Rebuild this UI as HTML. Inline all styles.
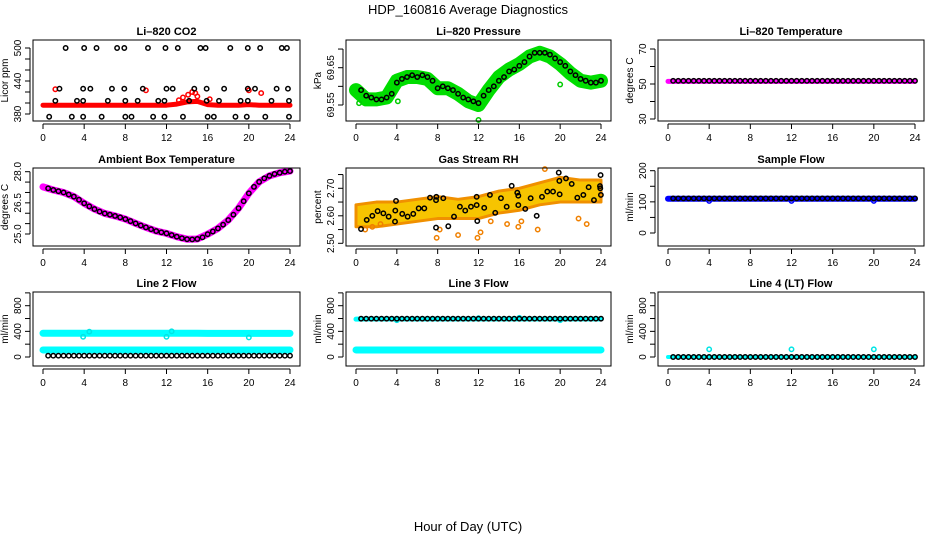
<!DOCTYPE html>
<html><head><meta charset="utf-8"><style>
html,body{margin:0;padding:0;background:#fff;}
svg text{font-family:"Liberation Sans",sans-serif;fill:#000;}
</style></head><body>
<svg id="chart" width="936" height="540" viewBox="0 0 936 540" xmlns="http://www.w3.org/2000/svg">
<text x="468" y="14" font-size="13" text-anchor="middle">HDP_160816  Average Diagnostics</text>
<text x="468" y="531" font-size="13" text-anchor="middle">Hour of Day (UTC)</text>
</svg>
<script>
const hourly=[0,1,2,3,4,5,6,7,8,9,10,11,12,13,14,15,16,17,18,19,20,21,22,23,24];
const halfHours=[0.5,1,1.5,2,2.5,3,3.5,4,4.5,5,5.5,6,6.5,7,7.5,8,8.5,9,9.5,10,10.5,11,11.5,12,12.5,13,13.5,14,14.5,15,15.5,16,16.5,17,17.5,18,18.5,19,19.5,20,20.5,21,21.5,22,22.5,23,23.5,24];
const xTicks=[0,4,8,12,16,20,24];
// CO2
const co2Red=[396,396,396,396,396,396,396,396,396,396,396,396,396,398,402,403,397,396,396,396,397,396,396,396,396];
const co2RedOutH=[1.2,10,13.2,13.6,14.1,14.5,14.8,15,16.2,20,21.2];
const co2RedOutV=[425,423,405,410,415,420,418,412,407,423,418];
const co2BlackH=[2.2,4.0,5.2,7.2,7.9,10.2,11.9,13.1,15.3,15.8,18.2,19.9,21.1,23.2,23.7,1.6,3.9,4.6,6.7,7.9,9.7,12.0,12.6,14.7,15.9,17.6,19.9,20.6,22.7,23.8,1.2,3.3,3.9,6.3,8.0,9.2,11.2,11.8,14.2,15.9,17.1,19.2,19.9,22.2,23.9,0.6,2.8,3.9,5.7,8.0,8.6,10.7,11.8,13.6,16.0,16.6,18.7,19.8,21.6,23.9];
const co2BlackV=[500,500,500,500,500,500,500,500,500,500,500,500,500,500,500,426,426,426,426,426,426,426,426,426,426,426,426,426,426,426,404,404,404,404,404,404,404,404,404,404,404,404,404,404,404,375,375,375,375,375,375,375,375,375,375,375,375,375,375,375];
// Pressure
const presGreen=[69.59,69.565,69.565,69.57,69.615,69.625,69.625,69.62,69.595,69.595,69.58,69.56,69.55,69.59,69.625,69.645,69.66,69.68,69.69,69.68,69.66,69.635,69.615,69.61,69.615];
const presBlack=[69.59,69.575,69.57,69.565,69.565,69.57,69.58,69.61,69.62,69.625,69.63,69.625,69.63,69.625,69.615,69.595,69.6,69.595,69.59,69.58,69.57,69.565,69.56,69.555,69.575,69.59,69.6,69.615,69.625,69.64,69.645,69.655,69.665,69.68,69.69,69.69,69.69,69.685,69.675,69.665,69.655,69.64,69.63,69.62,69.615,69.61,69.61,69.615];
const presOutH=[0.3,4.1,12,20];
const presOutV=[69.555,69.56,69.51,69.605];
// Li-820 temperature
const tempBand=[51.5,51.5,51.5,51.5,51.5,51.5,51.5,51.5,51.5,51.5,51.5,51.5,51.5,51.5,51.5,51.5,51.5,51.5,51.5,51.5,51.5,51.5,51.5,51.5,51.5];
const tempBlack=[51.8,51.8,51.8,51.8,51.8,51.8,51.8,51.8,51.8,51.8,51.8,51.8,51.8,51.8,51.8,51.8,51.8,51.8,51.8,51.8,51.8,51.8,51.8,51.8,51.8,51.8,51.8,51.8,51.8,51.8,51.8,51.8,51.8,51.8,51.8,51.8,51.8,51.8,51.8,51.8,51.8,51.8,51.8,51.8,51.8,51.8,51.8,51.8];
// Ambient box temperature
const ambBand=[27.27,27.12,27.0,26.8,26.48,26.2,25.99,25.87,25.72,25.51,25.32,25.14,25.03,24.87,24.75,24.76,24.99,25.27,25.67,26.24,26.96,27.51,27.8,27.95,28.03];
const ambBlack=[27.2,27.12,27.06,27.0,26.9,26.8,26.65,26.48,26.33,26.2,26.08,25.99,25.93,25.87,25.8,25.72,25.62,25.51,25.41,25.32,25.23,25.14,25.08,25.03,24.95,24.87,24.8,24.75,24.74,24.76,24.84,24.99,25.12,25.27,25.45,25.67,25.93,26.24,26.58,26.96,27.27,27.51,27.68,27.8,27.89,27.95,28.0,28.03];
// Gas stream RH
const rhBandH=[0,2,4,6,8,10,12,14,16,18,20,22,24];
const rhUpper=[2.64,2.65,2.65,2.66,2.67,2.66,2.67,2.69,2.70,2.72,2.74,2.73,2.73];
const rhLower=[2.56,2.56,2.57,2.58,2.59,2.59,2.59,2.61,2.62,2.64,2.65,2.65,2.65];
const rhOutH=[0.9,1.6,2.4,7.9,8.2,10,11.9,12.2,13.2,14.8,15.9,16.2,17.8,18.5,21.8,22.6];
const rhOutV=[2.55,2.56,2.57,2.52,2.55,2.53,2.52,2.54,2.58,2.57,2.56,2.58,2.55,2.77,2.59,2.57];
const rhBlackH=[0.49,1.05,1.6,2.12,2.68,3.2,3.82,3.85,3.92,4.53,5.06,5.61,6.14,6.69,7.25,7.84,7.84,7.87,8.55,9.04,9.6,10.18,10.7,11.26,11.82,11.82,11.88,12.56,13.12,13.64,14.2,14.76,15.25,15.8,15.9,15.9,16.58,17.11,17.7,18.22,18.74,19.3,19.86,19.92,19.95,20.57,21.13,21.68,22.27,22.79,23.31,23.9,23.93,23.96,23.99];
const rhBlackV=[2.552,2.585,2.6,2.617,2.609,2.597,2.579,2.619,2.654,2.607,2.597,2.607,2.627,2.627,2.666,2.557,2.657,2.669,2.664,2.562,2.597,2.633,2.619,2.633,2.639,2.669,2.581,2.629,2.676,2.611,2.664,2.633,2.709,2.684,2.673,2.639,2.625,2.664,2.6,2.669,2.688,2.688,2.757,2.727,2.678,2.736,2.716,2.666,2.676,2.704,2.657,2.708,2.7,2.748,2.676];
// Sample flow
const sampleBand=[110,110,110,110,110,110,110,110,110,110,110,110,110,110,110,110,110,110,110,110,110,110,110,110,110];
const sampleBlack=[111,111,111,111,111,111,111,111,111,111,111,111,111,111,111,111,111,111,111,111,111,111,111,111,111,111,111,111,111,111,111,111,111,111,111,111,111,111,111,111,111,111,111,111,111,111,111,111];
const sampleOutH=[4,12,20];
const sampleOutV=[103,103,103];
// Line 2 flow
const l2Upper=[370,370,370,370,370,370,370,370,370,370,370,370,370,370,370,370,368,368,368,368,368,368,368,368,368];
const l2Lower=[110,110,110,110,110,110,110,110,110,110,110,110,110,110,110,110,110,110,110,110,110,110,110,110,110];
const l2Black=[20,20,20,20,20,20,20,20,20,20,20,20,20,20,20,20,20,20,20,20,20,20,20,20,20,20,20,20,20,20,20,20,20,20,20,20,20,20,20,20,20,20,20,20,20,20,20,20];
const l2OutH=[3.9,4.5,12,12.5,20];
const l2OutV=[315,395,315,400,305];
// Line 3 flow
const l3Upper=[590,592,592,592,592,592,592,592,592,592,592,592,592,592,592,592,592,592,592,592,592,592,592,592,592];
const l3Lower=[110,110,110,110,110,110,110,110,110,110,110,110,110,110,110,110,110,110,110,110,110,110,110,110,110];
const l3Black=[598,598,598,598,598,598,598,598,598,598,598,598,598,598,598,598,598,598,598,598,598,598,598,598,598,598,598,598,598,598,598,598,598,598,598,598,598,598,598,598,598,598,598,598,598,598,598,598];
const l3OutH=[4,12,16,20];
const l3OutV=[575,605,610,575];
// Line 4 flow
const l4Band=[0,0,0,0,0,0,0,0,0,0,0,0,0,0,0,0,0,0,0,0,0,0,0,0,0];
const l4Black=[0,0,0,0,0,0,0,0,0,0,0,0,0,0,0,0,0,0,0,0,0,0,0,0,0,0,0,0,0,0,0,0,0,0,0,0,0,0,0,0,0,0,0,0,0,0,0,0];
const l4OutH=[4,12,20];
const l4OutV=[120,120,120];

const NS="http://www.w3.org/2000/svg";
const svg=document.getElementById('chart');
const cols=[{x0:33,x1:300,h0:43,h24:290},{x0:346,x1:611,h0:356,h24:601},{x0:658,x1:924,h0:668,h24:915}];
const rows=[{y0:40,y1:121},{y0:168,y1:246},{y0:292,y1:366}];
function mk(tag,attrs,parent){const e=document.createElementNS(NS,tag);for(const k in attrs)e.setAttribute(k,attrs[k]);(parent||svg).appendChild(e);return e;}

function panel(cfg){
  const c=cols[cfg.col], r=rows[cfg.row];
  const g=mk('g',{});
  
  
  const xs=h=>c.h0+(c.h24-c.h0)*h/24;
  const ys=v=>cfg.p0+(cfg.p1-cfg.p0)*(v-cfg.v0)/(cfg.v1-cfg.v0);
  const plot=mk('g',{},g);
  
  
  cfg.draw(plot,xs,ys);
  const box=mk('rect',{x:c.x0,y:r.y0,width:c.x1-c.x0,height:r.y1-r.y0,fill:'none',stroke:'#000','stroke-width':1},g);
  
  
  const t=mk('text',{x:(c.x0+c.x1)/2,y:r.y0-5,'font-size':11,'font-weight':'bold','text-anchor':'middle'},g);
  t.textContent=cfg.title;
  
  
  const xa=mk('g',{},g);
  
  
  const yb=r.y1+3;
  mk('line',{x1:xs(0),x2:xs(24),y1:yb,y2:yb,stroke:'#000'},xa);
  xTicks.forEach(h=>{
    mk('line',{x1:xs(h),x2:xs(h),y1:yb,y2:yb+5,stroke:'#000'},xa);
    const tl=mk('text',{x:xs(h),y:yb+17,'font-size':10,'text-anchor':'middle'},xa);
    tl.textContent=h;
    
    
  });
  const ya=mk('g',{},g);
  
  
  const xl=c.x0-3;
  mk('line',{x1:xl,x2:xl,y1:ys(cfg.ticks[0]),y2:ys(cfg.ticks[cfg.ticks.length-1]),stroke:'#000'},ya);
  cfg.ticks.forEach(v=>mk('line',{x1:xl-5,x2:xl,y1:ys(v),y2:ys(v),stroke:'#000'},ya));
  cfg.labels.forEach((v,i)=>{
    const y=ys(v);
    const tl=mk('text',{x:xl-9,y:y,'font-size':10,'text-anchor':'middle',transform:`rotate(-90 ${xl-9} ${y})`},ya);
    tl.textContent=cfg.labelText[i];
    
    
  });
  const yt=mk('text',{x:c.x0-25,y:(r.y0+r.y1)/2,'font-size':10,'text-anchor':'middle',transform:`rotate(-90 ${c.x0-25} ${(r.y0+r.y1)/2})`},g);
  yt.textContent=cfg.ylab;
  
  
}
function band(p,xs,ys,hs,vs,color,w){
  const pts=hs.map((h,i)=>xs(h)+','+ys(vs[i])).join(' ');
  const e=mk('polyline',{points:pts,fill:'none',stroke:color,'stroke-width':w,'stroke-linecap':'round','stroke-linejoin':'round'},p);
  
  
}
function pts(p,xs,ys,hs,vs,color,r){
  const n=Math.min(hs.length,vs.length);
  for(let i=0;i<n;i++){
    const e=mk('circle',{cx:xs(hs[i]),cy:ys(vs[i]),r:r||2.2,fill:'none',stroke:color,'stroke-width':1.5},p);
    
    
  }
}

panel({name:'panel-co2',col:0,row:0,title:'Li\u2013820 CO2',ylab:'Licor ppm',v0:380,p0:114,v1:500,p1:48,
  ticks:[380,400,420,440,460,480,500],labels:[380,440,500],labelText:['380','440','500'],
  draw:(p,xs,ys)=>{band(p,xs,ys,hourly,co2Red,'#ff0000',5);pts(p,xs,ys,co2RedOutH,co2RedOutV,'#ff0000');pts(p,xs,ys,co2BlackH,co2BlackV,'#000');}});
panel({name:'panel-pressure',col:1,row:0,title:'Li\u2013820 Pressure',ylab:'kPa',v0:69.55,p0:105,v1:69.65,p1:67.7,
  ticks:[69.55,69.6,69.65,69.7],labels:[69.55,69.65],labelText:['69.55','69.65'],
  draw:(p,xs,ys)=>{band(p,xs,ys,hourly,presGreen,'#00dd00',14);pts(p,xs,ys,presOutH,presOutV,'#00cc00');pts(p,xs,ys,halfHours,presBlack,'#000');}});
panel({name:'panel-li820-temperature',col:2,row:0,title:'Li\u2013820 Temperature',ylab:'degrees C',v0:30,p0:119,v1:70,p1:49,
  ticks:[30,40,50,60,70],labels:[30,50,70],labelText:['30','50','70'],
  draw:(p,xs,ys)=>{band(p,xs,ys,hourly,tempBand,'#ff00ff',5);pts(p,xs,ys,halfHours,tempBlack,'#000');}});
panel({name:'panel-ambient-temperature',col:0,row:1,title:'Ambient Box Temperature',ylab:'degrees C',v0:25,p0:234,v1:28,p1:171.7,
  ticks:[25,25.5,26,26.5,27,27.5,28],labels:[25,26.5,28],labelText:['25.0','26.5','28.0'],
  draw:(p,xs,ys)=>{band(p,xs,ys,hourly,ambBand,'#ff00ff',7);pts(p,xs,ys,halfHours,ambBlack,'#000');}});
panel({name:'panel-gas-rh',col:1,row:1,title:'Gas Stream RH',ylab:'percent',v0:2.5,p0:243.3,v1:2.7,p1:188.3,
  ticks:[2.5,2.55,2.6,2.65,2.7,2.75],labels:[2.5,2.6,2.7],labelText:['2.50','2.60','2.70'],
  draw:(p,xs,ys)=>{
    const up=rhBandH.map((h,i)=>xs(h)+','+ys(rhUpper[i]));
    const lo=rhBandH.map((h,i)=>xs(h)+','+ys(rhLower[i])).reverse();
    const poly=mk('polygon',{points:up.concat(lo).join(' '),fill:'#f7c400',stroke:'#f09000','stroke-width':3,'stroke-linejoin':'round'},p);
    
    
    pts(p,xs,ys,rhOutH,rhOutV,'#f08000');pts(p,xs,ys,rhBlackH,rhBlackV,'#000');}});
panel({name:'panel-sample-flow',col:2,row:1,title:'Sample Flow',ylab:'ml/min',v0:0,p0:233,v1:200,p1:170.7,
  ticks:[0,50,100,150,200],labels:[0,100,200],labelText:['0','100','200'],
  draw:(p,xs,ys)=>{band(p,xs,ys,hourly,sampleBand,'#0000ff',6);pts(p,xs,ys,sampleOutH,sampleOutV,'#0000ff');pts(p,xs,ys,halfHours,sampleBlack,'#000');}});
const flowCfg={v0:0,p0:357,v1:800,p1:305.7,ticks:[0,200,400,600,800,1000],labels:[0,400,800],labelText:['0','400','800'],ylab:'ml/min'};
panel(Object.assign({name:'panel-line2-flow',col:0,row:2,title:'Line 2 Flow',
  draw:(p,xs,ys)=>{band(p,xs,ys,hourly,l2Upper,'#00ffff',7);band(p,xs,ys,hourly,l2Lower,'#00ffff',7);pts(p,xs,ys,l2OutH,l2OutV,'#00e5e5');pts(p,xs,ys,halfHours,l2Black,'#000');}},flowCfg));
panel(Object.assign({name:'panel-line3-flow',col:1,row:2,title:'Line 3 Flow',
  draw:(p,xs,ys)=>{band(p,xs,ys,hourly,l3Upper,'#00ffff',5);band(p,xs,ys,hourly,l3Lower,'#00ffff',7);pts(p,xs,ys,l3OutH,l3OutV,'#00e5e5');pts(p,xs,ys,halfHours,l3Black,'#000');}},flowCfg));
panel(Object.assign({name:'panel-line4-flow',col:2,row:2,title:'Line 4 (LT) Flow',
  draw:(p,xs,ys)=>{band(p,xs,ys,hourly,l4Band,'#00ffff',4);pts(p,xs,ys,l4OutH,l4OutV,'#00e5e5');pts(p,xs,ys,halfHours,l4Black,'#000');}},flowCfg));
</script>
</body></html>
